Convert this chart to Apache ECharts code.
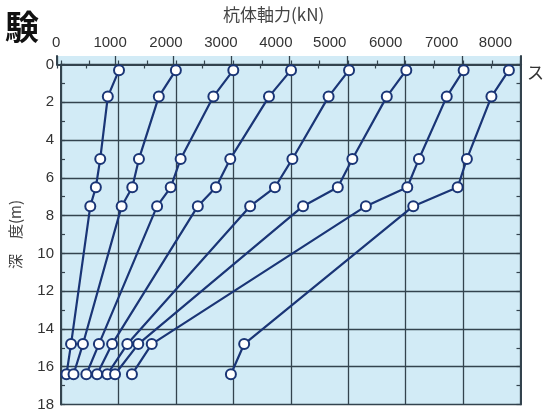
<!DOCTYPE html>
<html>
<head>
<meta charset="utf-8">
<script src="https://cdn.jsdelivr.net/npm/echarts@6/dist/echarts.min.js"></script>
<style>
  html, body { margin: 0; padding: 0; background: #ffffff; }
  #chart { width: 544px; height: 412px; }
</style>
</head>
<body>
<div id="chart"></div>
<script>
// Measurement depths along the pile (m)
var depths = [0.3, 1.7, 5.0, 6.5, 7.5, 14.8, 16.4];

// Axial force in the pile at each depth (kN), one array per load step
var load1 = [1010, 815, 683, 607, 510, 175, 95];
var load2 = [2000, 1703, 1357, 1241, 1056, 382, 218];
var load3 = [3000, 2653, 2083, 1910, 1673, 660, 441];
var load4 = [4005, 3621, 2947, 2698, 2382, 890, 628];
var load5 = [5015, 4659, 4029, 3725, 3293, 1155, 806];
var load6 = [6012, 5672, 5073, 4819, 4214, 1345, 941];
var load7 = [7010, 6716, 6232, 6029, 5308, 1580, 1235];
var load8 = [7798, 7494, 7067, 6906, 6133, 3189, 2958];

var loadSteps = [load1, load2, load3, load4, load5, load6, load7, load8];

// Force scale labels along the top
var xTicks = [0, 1000, 2000, 3000, 4000, 5000, 6000, 7000, 8000];

var xTitle = '杭体軸力(kN)';
var yTitle = '深　度(m)';

var BG = '#d2ebf6';
var GRIDLINE = '#33434e';
var LINE = '#1a3576';
var LABEL_FONT = '"Liberation Sans", Arial, sans-serif';
var CJK_FONT = '"Noto Sans CJK JP", sans-serif';

var chart = echarts.init(document.getElementById('chart'), null, { renderer: 'canvas' });

var tickStyle = { color: GRIDLINE, width: 1.2 };
var plainNumber = function (v) { return String(v); };

// The printed force scale is set slightly tighter than the grid,
// so each label drifts a little further left of its grid line.
var labelDrift = [1, 5, 7, 10, 13, 17, 19, 21, 25];
var topRich = {};
xTicks.forEach(function (t, i) {
  topRich['t' + i] = {
    color: '#333333', fontSize: 15, fontFamily: LABEL_FONT,
    padding: [0, labelDrift[i] * 2, 0, 0]
  };
});
var topLabel = function (v) {
  var i = xTicks.indexOf(v);
  return i < 0 ? '' : '{t' + i + '|' + v + '}';
};

var series = loadSteps.map(function (vals) {
  return {
    type: 'line',
    xAxisIndex: 0,
    yAxisIndex: 0,
    data: vals.map(function (v, i) { return [v, depths[i]]; }),
    symbol: 'circle',
    symbolSize: 10,
    lineStyle: { color: LINE, width: 2.2 },
    itemStyle: { color: '#ffffff', borderColor: LINE, borderWidth: 2 },
    emphasis: { disabled: true },
    z: 3
  };
});

chart.setOption({
  animation: false,
  grid: [
    { left: 57.2, right: 23.5, top: 64.5, bottom: 3.7, show: true, backgroundColor: BG, borderWidth: 0 },
    { left: 57.2, right: 23.5, top: 56, height: 8.5, show: true, backgroundColor: BG, borderWidth: 0 }
  ],
  xAxis: [
    {
      gridIndex: 0, type: 'value', position: 'bottom', min: 0, max: 8000, interval: 1000,
      axisLine: { show: true, lineStyle: { color: GRIDLINE, width: 2 } },
      axisTick: { show: true, inside: true, length: 4, lineStyle: tickStyle },
      minorTick: { show: true, splitNumber: 2, length: 4, lineStyle: tickStyle },
      axisLabel: { show: false },
      splitLine: { show: true, lineStyle: { color: GRIDLINE, width: 1.3 } }
    },
    {
      gridIndex: 1, type: 'value', position: 'top', min: 0, max: 8000, interval: 1000,
      axisLine: { show: true, lineStyle: { color: GRIDLINE, width: 2 } },
      axisTick: { show: true, inside: true, length: 4, lineStyle: tickStyle },
      minorTick: { show: true, splitNumber: 2, length: 4, lineStyle: tickStyle },
      axisLabel: { show: true, margin: 6, color: '#333333', fontSize: 15, fontFamily: LABEL_FONT,
                   formatter: topLabel, rich: topRich },
      splitLine: { show: true, lineStyle: { color: GRIDLINE, width: 1.3 } }
    }
  ],
  yAxis: [
    {
      gridIndex: 0, type: 'value', position: 'left', inverse: true, min: 0, max: 18, interval: 2,
      name: yTitle, nameLocation: 'middle', nameRotate: 90, nameGap: 38,
      nameTextStyle: { color: '#444444', fontSize: 15, fontFamily: CJK_FONT },
      axisLine: { show: true, lineStyle: { color: GRIDLINE, width: 2 } },
      axisTick: { show: true, inside: true, length: 4, lineStyle: tickStyle },
      minorTick: { show: true, splitNumber: 2, length: 4, lineStyle: tickStyle },
      axisLabel: { show: true, margin: 7, color: '#333333', fontSize: 15, fontFamily: LABEL_FONT, formatter: plainNumber },
      splitLine: { show: true, lineStyle: { color: GRIDLINE, width: 1.3 } }
    },
    {
      gridIndex: 0, type: 'value', position: 'right', inverse: true, min: 0, max: 18, interval: 2,
      axisLine: { show: true, lineStyle: { color: GRIDLINE, width: 2 } },
      axisTick: { show: true, inside: true, length: 4, lineStyle: tickStyle },
      minorTick: { show: true, splitNumber: 2, length: 4, lineStyle: tickStyle },
      axisLabel: { show: false },
      splitLine: { show: false }
    },
    {
      gridIndex: 1, type: 'value', position: 'left', min: 0, max: 1,
      axisLine: { show: true, lineStyle: { color: GRIDLINE, width: 2 } },
      axisTick: { show: false }, axisLabel: { show: false }, splitLine: { show: false }
    },
    {
      gridIndex: 1, type: 'value', position: 'right', min: 0, max: 1,
      axisLine: { show: true, lineStyle: { color: GRIDLINE, width: 2 } },
      axisTick: { show: false }, axisLabel: { show: false }, splitLine: { show: false }
    }
  ],
  graphic: [
    {
      type: 'text', left: 223, top: 6,
      style: { text: xTitle, fill: '#444444', font: '17px ' + CJK_FONT }
    },
    {
      type: 'text', right: 505, top: 10,
      style: { text: '験', fill: '#111111', font: 'bold 34px ' + CJK_FONT }
    },
    {
      type: 'text', left: 527, top: 64,
      style: { text: 'ス', fill: '#333333', font: '17px ' + CJK_FONT }
    }
  ],
  series: series
});
</script>
</body>
</html>
